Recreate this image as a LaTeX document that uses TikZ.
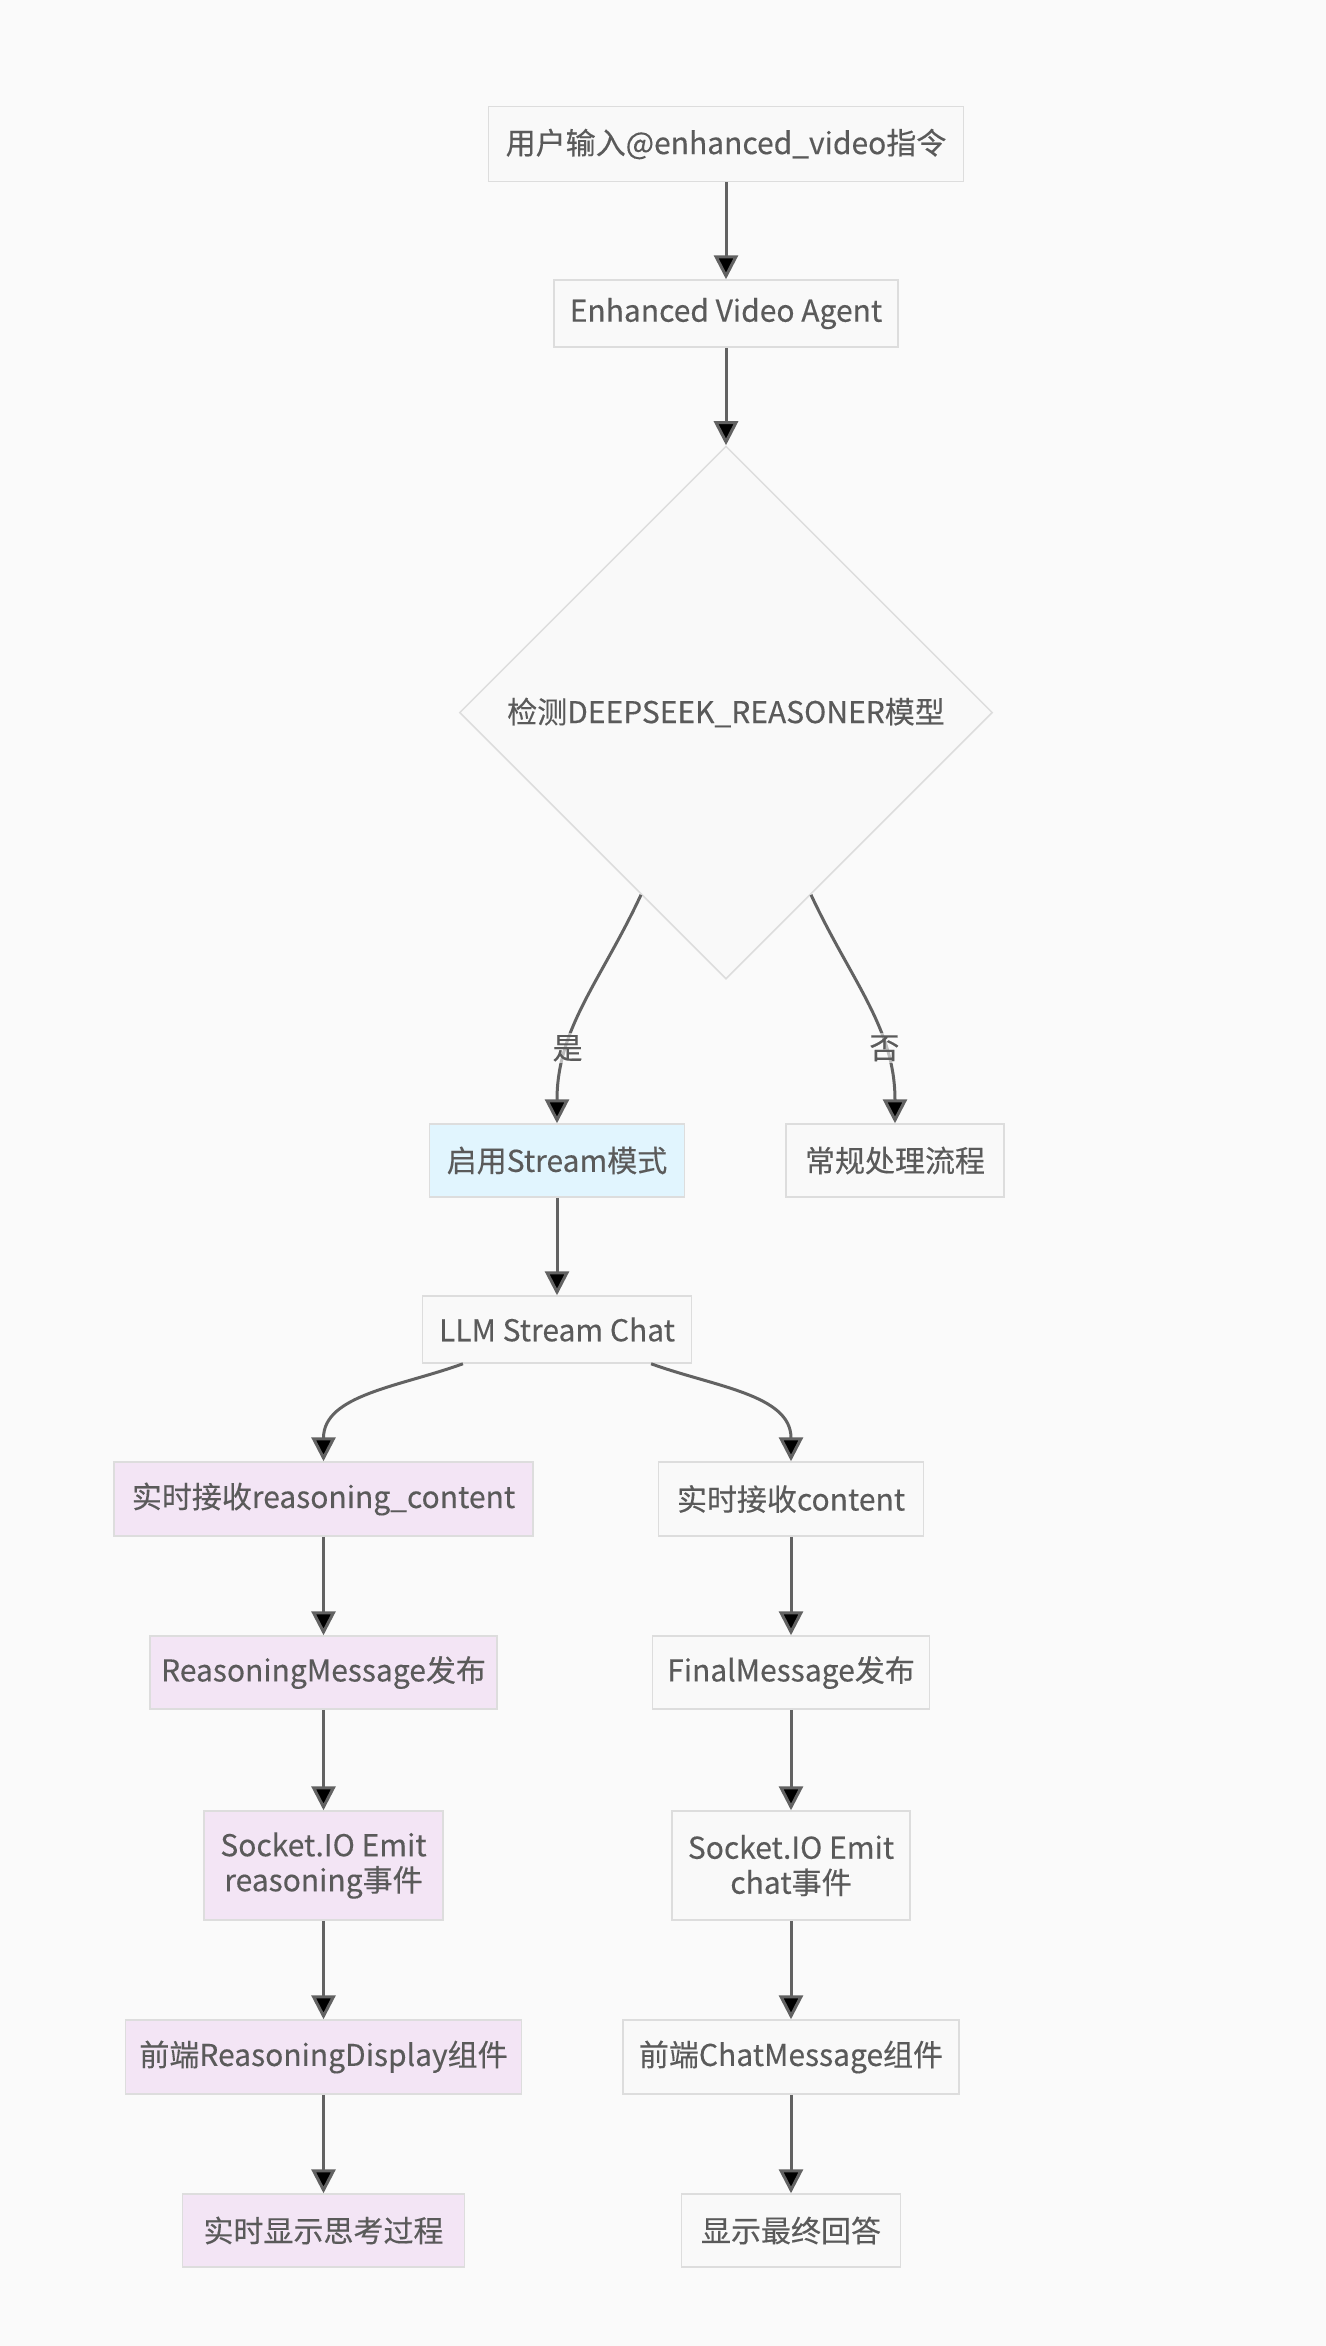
\documentclass[tikz,border=0pt]{standalone}
\usepackage{fontspec}
\setmainfont[FakeBold=0.3]{Noto Sans CJK SC}
\usetikzlibrary{arrows.meta,shapes.geometric}

\definecolor{bgcol}{HTML}{FAFAFA}
\definecolor{boxfill}{HTML}{F9F9F9}
\definecolor{boxline}{HTML}{DDDDDD}
\definecolor{txtcol}{HTML}{5A5A5A}
\definecolor{flowcol}{HTML}{626262}
\definecolor{streamfill}{HTML}{E1F5FE}
\definecolor{reasonfill}{HTML}{F3E5F5}

\begin{document}
\begin{tikzpicture}[x=0.5pt, y=0.5pt,
   >={Triangle[length=12pt,width=12pt]},
   every node/.style={font=\fontsize{15}{17.5}\selectfont, text=txtcol},
   box/.style={draw=boxline, line width=0.75pt, fill=boxfill, inner sep=0pt, align=center},
   rbox/.style={box, fill=reasonfill},
   lbl/.style={fill=bgcol, fill opacity=0.6, text opacity=1, inner sep=1pt},
   flow/.style={draw=flowcol, line width=1.5pt}]
   \fill[bgcol] (0,0) rectangle (1326,-2346);

   \node[box, minimum width=237.5pt, minimum height=37.5pt] (in0) at (726,-144) {用户输入@enhanced\_video指令};
   \node[box, minimum width=172pt, minimum height=33.5pt] (ag) at (726,-313.5) {Enhanced Video Agent};
   \node[box, diamond, aspect=1, minimum width=266.5pt, minimum height=266.5pt] (chk) at (726,-712.5) {检测DEEPSEEK\_REASONER模型};

   \node[box, fill=streamfill, minimum width=127.5pt, minimum height=36.5pt] (str) at (557,-1160.5) {启用Stream模式};
   \node[box, minimum width=109pt, minimum height=36.5pt] (nrm) at (895,-1160.5) {常规处理流程};
   \node[box, minimum width=134.5pt, minimum height=33.5pt] (llm) at (557,-1329.5) {LLM Stream Chat};

   %reasoning branch
   \node[rbox, minimum width=209.5pt, minimum height=37pt] (r0) at (323.5,-1499) {实时接收reasoning\_content};
   \node[rbox, minimum width=173.5pt, minimum height=36.5pt] (r1) at (323.5,-1672.5) {ReasoningMessage发布};
   \node[rbox, minimum width=119.5pt, minimum height=54.5pt] (r2) at (323.5,-1865.5) {Socket.IO Emit\\reasoning事件};
   \node[rbox, minimum width=198pt, minimum height=37pt] (r3) at (323.5,-2057) {前端ReasoningDisplay组件};
   \node[rbox, minimum width=141pt, minimum height=36.5pt] (r4) at (323.5,-2230.5) {实时显示思考过程};

   %content branch
   \node[box, minimum width=132.5pt, minimum height=37pt] (c0) at (791,-1499) {实时接收content};
   \node[box, minimum width=138.5pt, minimum height=36.5pt] (c1) at (791,-1672.5) {FinalMessage发布};
   \node[box, minimum width=119pt, minimum height=54.5pt] (c2) at (791,-1865.5) {Socket.IO Emit\\chat事件};
   \node[box, minimum width=168pt, minimum height=37pt] (c3) at (791,-2057) {前端ChatMessage组件};
   \node[box, minimum width=109.5pt, minimum height=36.5pt] (c4) at (791,-2230.5) {显示最终回答};

  \path[->, flow]
    (in0) edge (ag)
    (ag) edge (chk)
    (chk) edge[out=-115, in=90] node[lbl, pos=0.7] {是} (str)
          edge[out=-65, in=90] node[lbl, pos=0.7] {否} (nrm)
    (str) edge (llm)
    (llm) edge[out=-160, in=90] (r0)
          edge[out=-20, in=90] (c0)

    %reasoning branch
    (r0) edge (r1)
    (r1) edge (r2)
    (r2) edge (r3)
    (r3) edge (r4)
    %content branch
    (c0) edge (c1)
    (c1) edge (c2)
    (c2) edge (c3)
    (c3) edge (c4);
  \end{tikzpicture}
\end{document}
